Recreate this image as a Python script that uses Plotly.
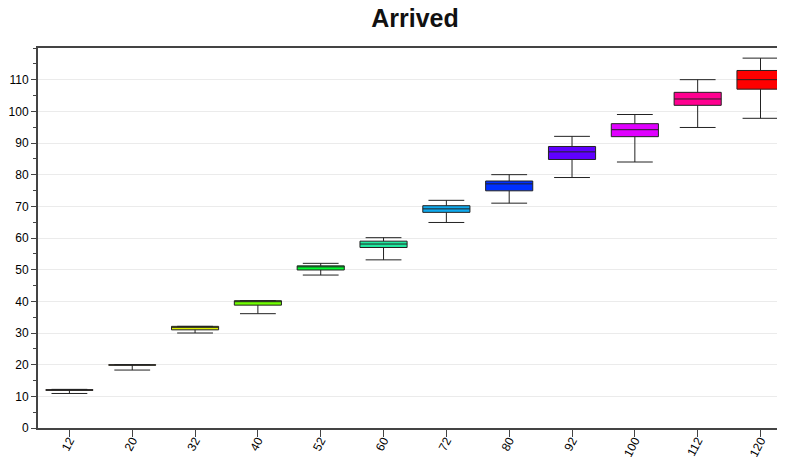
import plotly.graph_objects as go

categories = ["12", "20", "32", "40", "52", "60", "72", "80", "92", "100", "112", "120"]
lower_fence = [10.9, 18.3, 30.0, 36.1, 48.3, 53.1, 64.9, 71.0, 79.1, 84.0, 94.9, 97.8]
q1_vals = [11.9, 19.85, 31.0, 38.8, 49.9, 57.0, 68.1, 74.9, 84.8, 92.0, 101.9, 107.0]
medians = [12.0, 19.9, 32.1, 40.2, 51.2, 58.1, 69.2, 77.1, 87.2, 94.2, 103.9, 110.0]
q3_vals = [12.1, 19.95, 32.1, 40.2, 51.2, 59.0, 70.2, 78.0, 88.9, 96.1, 106.0, 112.9]
upper_fence = [12.2, 20.0, 32.1, 40.2, 52.0, 60.1, 71.9, 80.0, 92.1, 99.0, 110.0, 116.8]
colors = ["#ff6a00", "#ffb000", "#dcf000", "#70ff00", "#00ff30", "#20eaa0",
          "#10aaee", "#0030ff", "#6000ff", "#e000ff", "#ff0090", "#ff0000"]
y_tickvals = [0, 10, 20, 30, 40, 50, 60, 70, 80, 90, 100, 110]

fig = go.Figure()
for i, c in enumerate(categories):
    fig.add_trace(go.Box(
        x=[c], q1=[q1_vals[i]], median=[medians[i]], q3=[q3_vals[i]],
        lowerfence=[lower_fence[i]], upperfence=[upper_fence[i]],
        fillcolor=colors[i], line=dict(color="#222", width=1),
        width=0.75, whiskerwidth=0.76, showlegend=False, hoverinfo="skip",
    ))

ff = "Liberation Sans, Arial, sans-serif"
tfont = dict(family=ff, size=12, color="#000")
n = len(categories)
xr = [-0.5, n - 0.5 - 0.11]

# page body has an 8px margin, so the figure is sized to fill the rest of the window
W, H = 777, 449
fig.update_layout(
    width=W, height=H,
    margin=dict(l=30, r=0, t=40, b=29, autoexpand=False),
    paper_bgcolor="white", plot_bgcolor="white",
    title=dict(text="<b>Arrived</b>", x=407 / W, xanchor="center", y=1 - 10 / H, yanchor="middle",
               font=dict(family=ff, size=25, color="#111")),
    font=tfont,
    xaxis=dict(type="category", categoryorder="array", categoryarray=categories,
               range=xr, showline=True, linecolor="#444", linewidth=2, mirror=True,
               ticks="outside", ticklen=7, tickcolor="#444", tickwidth=1,
               ticklabelstandoff=-8,
               tickangle=-62, showgrid=False, zeroline=False, automargin=False,
               tickfont=tfont),
    yaxis=dict(range=[0, 120], tickvals=y_tickvals, showline=True, linecolor="#444", linewidth=2,
               ticks="outside", ticklen=5, tickcolor="#444", tickwidth=1,
               showgrid=True, gridcolor="#ebebeb", gridwidth=1, zeroline=False, automargin=False,
               minor=dict(dtick=5, tick0=0, ticks="outside", ticklen=3, tickcolor="#444", showgrid=False),
               tickfont=tfont),
    xaxis2=dict(overlaying="x", anchor="y", side="bottom", range=xr,
                tickvals=list(range(n)), ticks="inside", ticklen=7, tickcolor="#444",
                showticklabels=False, showgrid=False, zeroline=False, showline=False),
    yaxis2=dict(overlaying="y", anchor="x", side="left", range=[0, 120], tickvals=y_tickvals,
                ticks="inside", ticklen=5, tickcolor="#444", showticklabels=False,
                showgrid=False, zeroline=False, showline=False,
                minor=dict(dtick=5, tick0=0, ticks="inside", ticklen=3, tickcolor="#444")),
)

fig.write_html("out.html")
